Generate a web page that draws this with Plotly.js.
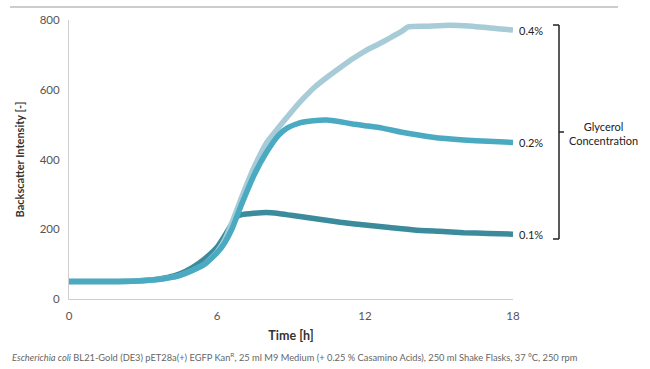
<!DOCTYPE html>
<html>
<head>
<meta charset="utf-8">
<script src="https://cdn.plot.ly/plotly-3.0.1.min.js"></script>
<style>html,body{margin:0;padding:0;background:#fff;}#chart{width:650px;height:369px;}</style>
</head>
<body>
<div id="chart"></div>
<script>
// ---- data ----
const seriesNames = ["0.1%", "0.4%", "0.2%"];
const time01 = [0, 1, 2, 3, 3.5, 4, 4.5, 5, 5.5, 6, 6.3, 6.6, 6.8, 7, 7.5, 8, 8.5, 9, 10, 11, 12, 13, 14, 15, 16, 17, 18];
const val01  = [50, 50, 50, 53, 56, 62, 72, 90, 115, 148, 180, 215, 236, 242, 246, 248, 245, 240, 230, 220, 212, 205, 198, 194, 190, 188, 186];
const time04 = [0, 1, 2, 3, 3.5, 4, 4.5, 5, 5.5, 6, 6.3, 6.6, 7, 7.5, 8, 8.67, 9, 9.5, 10, 10.5, 11, 11.5, 12, 12.5, 13, 13.5, 13.75, 14.5, 15.4, 16.2, 16.8, 17.4, 18];
const val04  = [50, 50, 50, 52, 55, 60, 68, 82, 100, 135, 168, 218, 292, 377, 447, 507, 535, 575, 610, 638, 664, 689, 711, 729, 748, 768, 780, 782, 785, 783, 779, 775, 771];
const time02 = [0, 1, 2, 3, 3.5, 4, 4.5, 5, 5.5, 6, 6.3, 6.6, 7, 7.5, 8, 8.5, 8.84, 9.36, 9.9, 10.46, 11, 11.5, 12, 12.7, 13.5, 14.75, 16, 17, 18];
const val02  = [50, 50, 50, 52, 55, 60, 68, 82, 100, 132, 160, 200, 272, 355, 420, 470, 490, 505, 511, 513, 508, 502, 497, 490, 478, 464, 456, 452, 449];
const xTicks = [0, 6, 12, 18];
const yTicks = [0, 200, 400, 600, 800];
const bracketTitle = ["Glycerol", "Concentration"];
const footer = "<i>Escherichia coli</i> BL21-Gold (DE3) pET28a(+) EGFP Kan<sup>R</sup>, 25 ml M9 Medium (+ 0.25 % Casamino Acids), 250 ml Shake Flasks, 37 °C, 250 rpm";

// ---- styles ----
const colors = {"0.1%": "#3b8b9c", "0.4%": "#a7cbd7", "0.2%": "#4aaac1"};
const FONT = "Lato, 'Open Sans', sans-serif";

// pixel -> paper helpers (plot area 69..513 x, 20..299 y)
const L = 69, R = 513, T = 20, B = 299;
const px = v => (v - L) / (R - L);
const py = v => (B - v) / (B - T);

const dataSets = [[time01, val01], [time04, val04], [time02, val02]];
const traces = dataSets.map((d, i) => ({
  x: d[0], y: d[1], type: "scatter", mode: "lines", name: seriesNames[i],
  line: {color: colors[seriesNames[i]], width: 5.5, shape: "spline", smoothing: 0.5},
  hoverinfo: "skip"
}));

const annotations = dataSets.map((d, i) => ({
  x: d[0][d[0].length - 1], y: d[1][d[1].length - 1], xref: "x", yref: "y",
  text: seriesNames[i], showarrow: false, xanchor: "left", yanchor: "middle",
  xshift: 4, font: {family: FONT, size: 11, color: "#222"}
}));
annotations.push({
  x: px(603), y: py(133), xref: "paper", yref: "paper",
  text: bracketTitle.join("<br>"), showarrow: false, xanchor: "center", yanchor: "middle",
  font: {family: FONT, size: 11, color: "#222"}, align: "center"
});
annotations.push({
  x: px(10), y: py(357), xref: "paper", yref: "paper",
  text: footer, showarrow: false, xanchor: "left", yanchor: "middle",
  font: {family: FONT, size: 9.3, color: "#666"}
});

const lineStyle = {color: "#222", width: 1.5};
const shapes = [
  {type: "line", xref: "paper", yref: "paper", x0: px(10), x1: px(618), y0: py(7), y1: py(7), line: {color: "#9a9a9a", width: 1}},
  {type: "line", xref: "paper", yref: "paper", x0: px(559), x1: px(559), y0: py(25), y1: py(239), line: lineStyle},
  {type: "line", xref: "paper", yref: "paper", x0: px(553), x1: px(559), y0: py(25), y1: py(25), line: lineStyle},
  {type: "line", xref: "paper", yref: "paper", x0: px(553), x1: px(559), y0: py(239), y1: py(239), line: lineStyle},
  {type: "line", xref: "paper", yref: "paper", x0: px(559), x1: px(564), y0: py(132), y1: py(132), line: lineStyle}
];

const layout = {
  width: 650, height: 369,
  margin: {l: L, r: 650 - R, t: T, b: 369 - B},
  paper_bgcolor: "#fff", plot_bgcolor: "#fff",
  showlegend: false,
  font: {family: FONT, color: "#555"},
  xaxis: {
    range: [0, 18], tickvals: xTicks, ticktext: xTicks.map(String),
    showgrid: false, zeroline: false, showline: true, linecolor: "#cfcfcf", linewidth: 1,
    ticks: "", ticklabelstandoff: 6, tickfont: {family: FONT, size: 11.5, color: "#555"},
    title: {text: "Time [h]", font: {family: FONT, size: 12.5, color: "#333", weight: "bold"}, standoff: 10}
  },
  yaxis: {
    range: [0, 800], tickvals: yTicks, ticktext: yTicks.map(String),
    showgrid: false, zeroline: false, showline: true, linecolor: "#cfcfcf", linewidth: 1,
    ticks: "", ticklabelstandoff: 6, tickfont: {family: FONT, size: 11.5, color: "#555"},
    title: {text: "Backscatter Intensity [-]", font: {family: FONT, size: 11, color: "#333", weight: "bold"}, standoff: 12}
  },
  annotations: annotations,
  shapes: shapes
};

Plotly.newPlot("chart", traces, layout, {staticPlot: true, displayModeBar: false});
</script>
</body>
</html>
